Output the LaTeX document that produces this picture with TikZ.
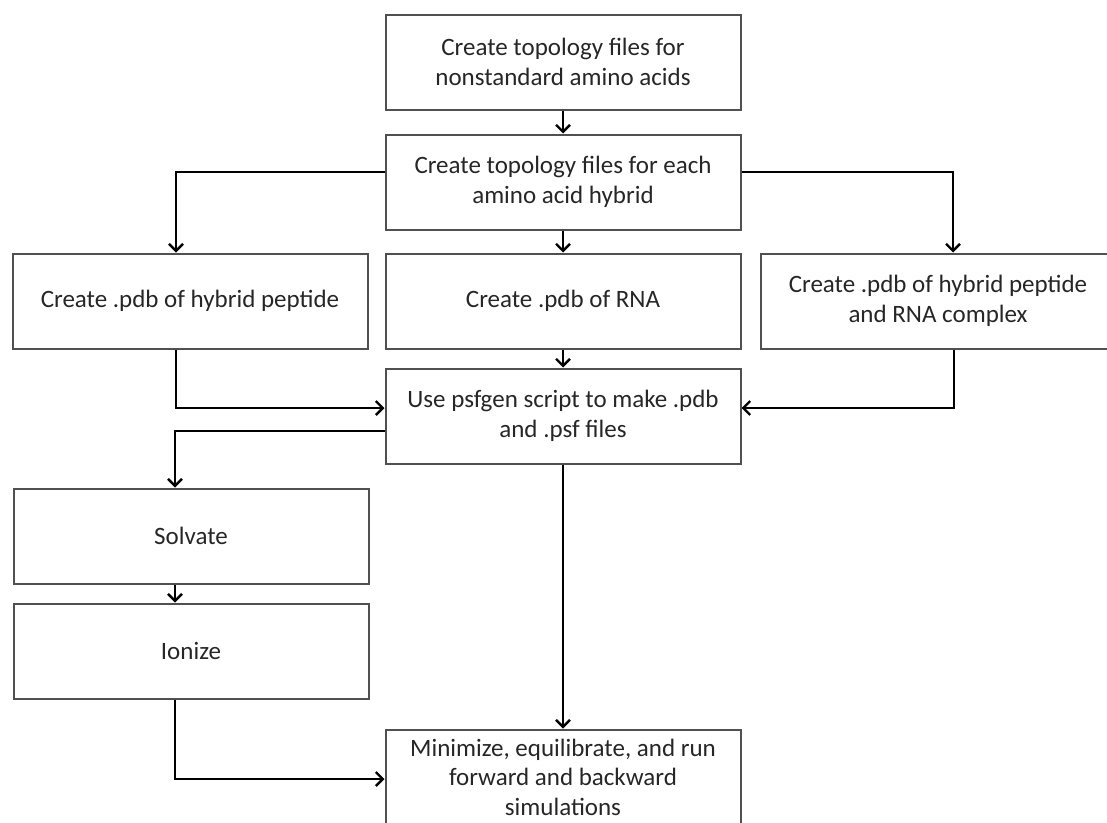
\documentclass[tikz,border=0pt]{standalone}
\usepackage{fontspec}
\setmainfont{Carlito}
\usetikzlibrary{arrows.meta}
\definecolor{boxgray}{RGB}{80,80,80}
\tikzset{
  stepbox/.style={draw=boxgray,line width=2pt,minimum width=355pt,minimum height=95pt,
    align=center,inner sep=0pt,text=black!85,font=\fontsize{25}{29.5}\selectfont},
  arr/.style={line width=2.6pt,-{Straight Barb[length=7pt,width=14pt,line width=2.4pt]}}
}
\begin{document}
\begin{tikzpicture}[x=1pt,y=-1pt]
\useasboundingbox (0,0) rectangle (1107,822);
\node[stepbox] (top) at (563,62) {Create topology files for\\nonstandard amino acids};
\node[stepbox] (hyb) at (563,182) {Create topology files for each\\amino acid hybrid};
\node[stepbox] (pep) at (190,301) {Create .pdb of hybrid peptide};
\node[stepbox] (rna) at (563,301) {Create .pdb of RNA};
\node[stepbox] (cplx) at (938,301) {Create .pdb of hybrid peptide\\and RNA complex};
\node[stepbox] (psf) at (563,416) {Use psfgen script to make .pdb\\and .psf files};
\node[stepbox] (solv) at (191,536) {Solvate};
\node[stepbox] (ion) at (191,651) {Ionize};
\node[stepbox] (sim) at (563,777) {Minimize, equilibrate, and run\\forward and backward\\simulations};

\draw[arr] (top)--(hyb);
\draw[arr] (hyb)--(rna);
\draw[arr] (rna)--(psf);
\draw[arr] (psf)--(sim);
\draw[arr] ([yshift=10pt]hyb.west) -| ([xshift=-14pt]pep.north);
\draw[arr] ([yshift=10pt]hyb.east) -| ([xshift=15pt]cplx.north);
\draw[arr] ([xshift=-14pt]pep.south) |- ([yshift=8pt]psf.west);
\draw[arr] ([xshift=16pt]cplx.south) |- ([yshift=8pt]psf.east);
\draw[arr] ([yshift=-15pt]psf.west) -| ([xshift=-16pt]solv.north);
\draw[arr] ([xshift=-16pt]solv.south)--([xshift=-16pt]ion.north);
\draw[arr] ([xshift=-16pt]ion.south) |- ([yshift=-2pt]sim.west);

\end{tikzpicture}
\end{document}
